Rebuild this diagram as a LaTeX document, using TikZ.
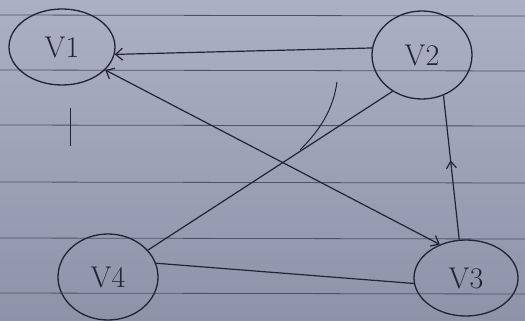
\documentclass[tikz,border=0pt]{standalone}
\usetikzlibrary{shapes.geometric,arrows.meta,decorations.markings}
\definecolor{papertop}{RGB}{172,176,196}
\definecolor{paperbot}{RGB}{142,147,170}
\definecolor{rule}{RGB}{78,82,102}
\definecolor{pencil}{RGB}{34,36,54}
\tikzset{
  vert/.style={ellipse, draw=pencil, line width=1.3pt, text=pencil,
    font=\fontsize{30}{30}\selectfont, inner sep=0pt},
  edge/.style={draw=pencil, line width=1.2pt},
  tip/.style={-{Straight Barb[length=7pt,width=12pt]}},
  midtip/.style={postaction={decorate},
    decoration={markings, mark=at position 0.55 with {\arrow{Straight Barb[length=7pt,width=10pt]}}}},
  ruling/.style={draw=rule, line width=0.8pt}
}
\begin{document}
\begin{tikzpicture}[x=1pt,y=-1pt]
\useasboundingbox (0,0) rectangle (525,321);
\shade[top color=papertop, bottom color=paperbot] (0,0) rectangle (525,321);
\foreach \yy in {15,70,125,182,238,293} \draw[ruling] (0,\yy) -- (525,\yy+1);
% nodes
\node[vert, minimum width=106pt, minimum height=76pt] (v1) at (62,47) {V1};
\node[vert, minimum width=100pt, minimum height=88pt] (v2) at (422,55) {V2};
\node[vert, minimum width=104pt, minimum height=76pt] (v3) at (466,278) {V3};
\node[vert, minimum width=100pt, minimum height=86pt] (v4) at (108,277) {V4};
% connectors
\draw[edge, tip] (v2.172) -- (v1.-8);
\draw[edge, {Straight Barb[length=7pt,width=12pt]}-{Straight Barb[length=7pt,width=12pt]}] (v1.-28) -- (v3.128);
\draw[edge, midtip] (v3.100) -- (v2.-62);
\draw[edge] (v4.34) -- (v2.231);
\draw[edge] (v4.16) -- (v3.186);
% stray pencil strokes
\coordinate (s1) at (337,82);
\coordinate (s2) at (300,150);
\draw[edge, line width=1pt] (s1) .. controls (333,110) and (320,130) .. (s2);
\coordinate (t1) at (70,108);
\coordinate (t2) at (70,146);
\draw[edge, line width=1pt] (t1) -- (t2);
\end{tikzpicture}
\end{document}
